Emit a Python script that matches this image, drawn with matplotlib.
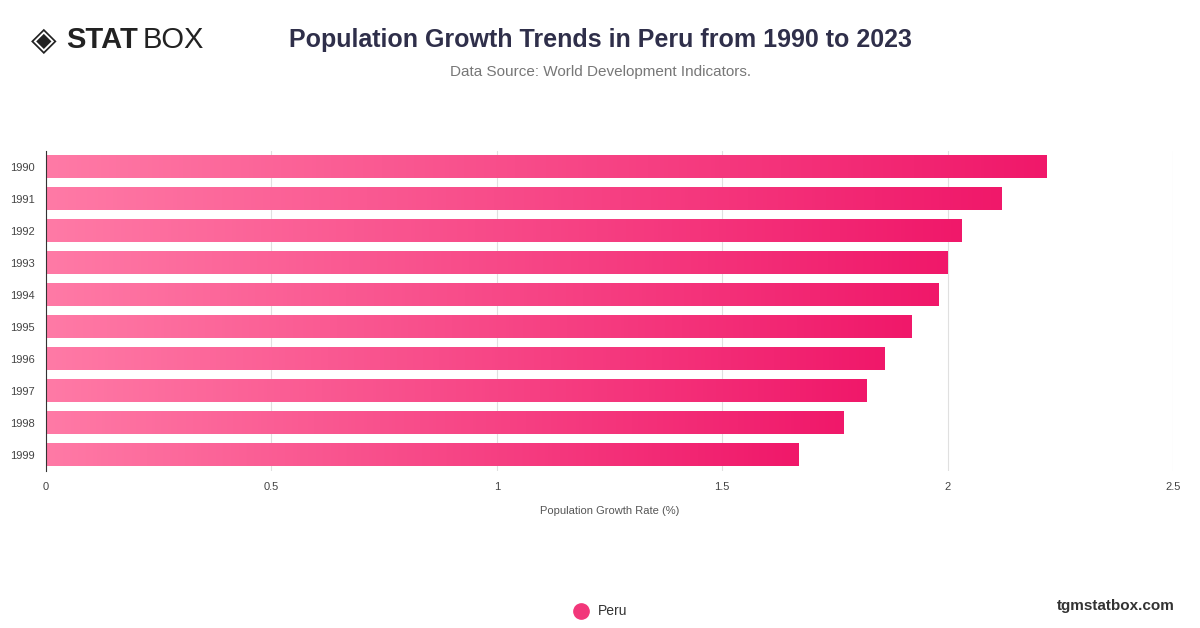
import matplotlib
matplotlib.use("Agg")
import matplotlib.pyplot as plt
import numpy as np
from matplotlib.colors import LinearSegmentedColormap
from matplotlib.lines import Line2D

years = ["1990","1991","1992","1993","1994","1995","1996","1997","1998","1999"]
values = [2.22, 2.12, 2.03, 2.00, 1.98, 1.92, 1.86, 1.82, 1.77, 1.67]
xticks = [0, 0.5, 1, 1.5, 2, 2.5]
xticklabels = ["0", "0.5", "1", "1.5", "2", "2.5"]

plt.rcParams['font.family'] = ['Liberation Sans', 'DejaVu Sans']
fig = plt.figure(figsize=(12, 6.28), dpi=100)
ax = fig.add_axes([46/1200, 1-471/628, (1173-46)/1200, (471-151)/628])

cmap = LinearSegmentedColormap.from_list("g", ["#ff7aa6", "#f0186a"])
grad = np.linspace(0, 1, 256).reshape(1, -1)
h = 0.7
for i, v in enumerate(values):
    ax.imshow(grad, cmap=cmap, aspect='auto', extent=[0, v, i - h/2, i + h/2], zorder=2)
ax.set_xlim(0, 2.5)
ax.set_ylim(len(years) - 0.5, -0.5)
ax.set_yticks(range(len(years)))
ax.set_yticklabels(years, fontsize=8, color="#444444")
ax.set_xticks(xticks)
ax.set_xticklabels(xticklabels, fontsize=8, color="#444444")
ax.tick_params(length=0, pad=8)
ax.grid(axis='x', color="#e0e0e0", lw=0.8, zorder=0)
for s in ["top", "right", "bottom"]:
    ax.spines[s].set_visible(False)
ax.spines["left"].set_color("#333333")
ax.set_xlabel("Population Growth Rate (%)", fontsize=8, color="#555555", labelpad=10)

fig.text(0.5, 1-40/628, "Population Growth Trends in Peru from 1990 to 2023", ha='center', va='center',
         fontsize=18, fontweight='bold', color="#2f2f4a")
fig.text(0.5, 1-72/628, "Data Source: World Development Indicators.", ha='center', va='center',
         fontsize=11, color="#777777")
fig.text(66/1200, 1-40/628, "STAT", ha='left', va='center', fontsize=21, fontweight='bold', color="#222222")
fig.text(143/1200, 1-40/628, "BOX", ha='left', va='center', fontsize=21, color="#222222")
fig.text(44/1200, 1-40/628, "◈", ha='center', va='center', fontsize=24, color="#222222", family=['DejaVu Sans'])
fig.text(1175/1200, 1-606/628, "tgmstatbox.com", ha='right', va='center', fontsize=11, fontweight='bold', color="#333333")
fig.add_artist(Line2D([581/1200], [1-611/628], marker='o', markersize=11, color="#f2377a", transform=fig.transFigure))
fig.text(598/1200, 1-611/628, "Peru", ha='left', va='center', fontsize=10, color="#333333")
fig.savefig("out.png", dpi=100)
